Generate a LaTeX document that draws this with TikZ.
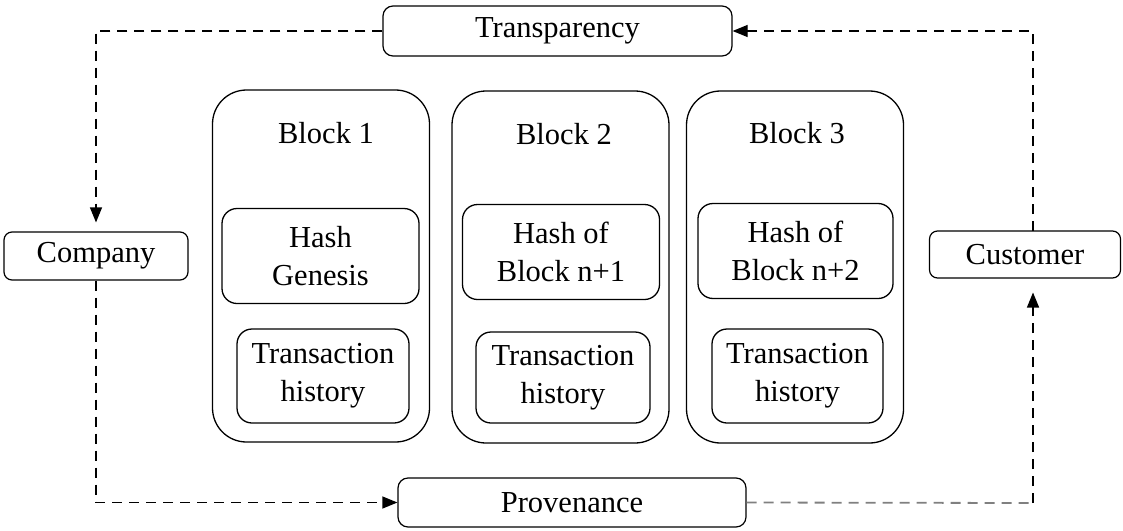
\documentclass[tikz,border=0pt]{standalone}
\usepackage{fontspec}
\setmainfont{Liberation Serif}
\newfontfamily\tnr{Liberation Serif}
\usetikzlibrary{arrows.meta}
\begin{document}
\begin{tikzpicture}[x=1pt,y=-1pt,
  every node/.style={font=\tnr\fontsize{30.5}{38}\selectfont, align=center, inner sep=0pt},
  blockbox/.style={draw, line width=1.3pt, rounded corners=34pt, minimum width=217pt, minimum height=352pt},
  hashbox/.style={draw, line width=1.3pt, rounded corners=15pt, minimum width=197pt, minimum height=95pt},
  transbox/.style={draw, line width=1.3pt, rounded corners=15pt, minimum width=172pt, minimum height=94pt},
  sidebox/.style={draw, line width=1.2pt, rounded corners=8pt, minimum height=48pt},
  conn/.style={dashed, dash pattern=on 10pt off 7pt, line width=1.2pt},
  tip/.style={-{Triangle[length=15pt,width=12pt]}}
]
\useasboundingbox (0,0) rectangle (1123,530);

\node[blockbox] (b1) at (321,266) {};
\node[blockbox] (b2) at (560.5,267) {};
\node[blockbox] (b3) at (795,267) {};

\node (l1) at (326,133) {Block 1};
\node (l2) at (564,134) {Block 2};
\node (l3) at (797,133) {Block 3};

\node[hashbox] (h1) at (320.5,256) {Hash\\Genesis};
\node[hashbox] (h2) at (561,252) {Hash of\\Block n+1};
\node[hashbox, minimum width=195pt] (h3) at (795.5,251) {Hash of\\Block n+2};

\node[transbox] (t1) at (323,376) {Transaction\\history};
\node[transbox, minimum width=174pt, minimum height=91pt] (t2) at (563,377.5) {Transaction\\history};
\node[transbox, minimum width=171pt] (t3) at (797.5,376) {Transaction\\history};

\node[sidebox, minimum width=184pt] (company) at (96,256) {Company};
\node[sidebox, minimum width=191pt, minimum height=47pt] (customer) at (1025,254.5) {Customer};
\node[sidebox, minimum width=349pt, minimum height=50pt, rounded corners=10pt] (transp) at (557.5,31) {Transparency};
\node[sidebox, minimum width=348pt, minimum height=49pt, rounded corners=10pt] (prov) at (572,502.5) {Provenance};

\coordinate (cr) at (1033,503);
\coordinate (ct) at (1033,31);
\coordinate (cb) at (1033,278.5);
\coordinate (cu) at (1033,231);

\draw[conn, tip, shorten >=9pt] (transp.west) -| (company.north);
\draw[conn, tip] (company.south) |- (prov.west);
\draw[conn, gray, line width=1.8pt] (prov.east) -- (cr);
\draw[conn, tip, shorten >=14pt] (cr) -- (cb);
\draw[conn, tip] (cu) -- (ct) -- (transp.east);
\end{tikzpicture}
\end{document}
